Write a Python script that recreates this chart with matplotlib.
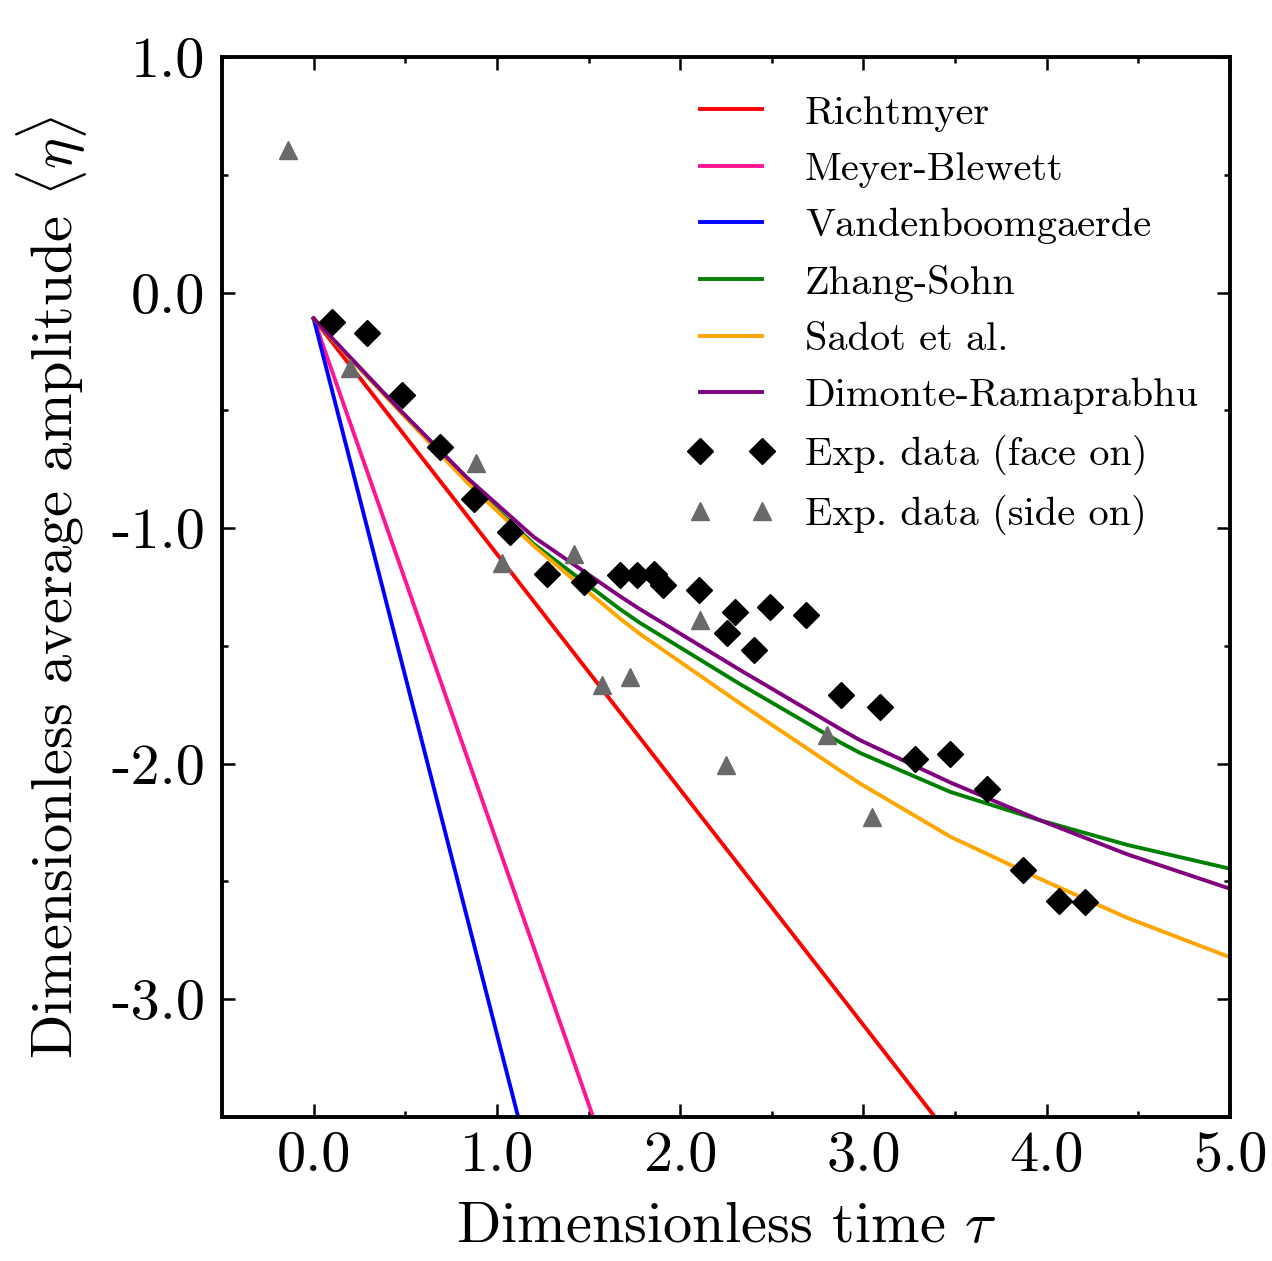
import matplotlib
matplotlib.use("Agg")
import matplotlib.pyplot as plt
from matplotlib.lines import Line2D
from matplotlib.ticker import MultipleLocator, FormatStrFormatter
from matplotlib.legend_handler import HandlerLine2D

plt.rcParams["font.family"] = ["cmr10", "DejaVu Serif"]
plt.rcParams["mathtext.fontset"] = "cm"
plt.rcParams["axes.unicode_minus"] = False

# Model curves
rich_t = [0.0, 3.39]
rich_y = [-0.11, -3.50]

meyer_t = [0.0, 1.525]
meyer_y = [-0.11, -3.50]

vdb_t = [0.0, 1.116]
vdb_y = [-0.11, -3.50]

zs_t = [0.0, 0.2, 0.472, 0.836, 1.2, 1.673, 1.782, 2.328, 2.874, 2.983, 3.474, 3.966, 4.44, 5.0]
zs_y = [-0.11, -0.28, -0.504, -0.80, -1.067, -1.345, -1.403, -1.663, -1.91, -1.955,
        -2.12, -2.241, -2.345, -2.446]

sadot_t = [0.0, 0.2, 0.472, 0.836, 1.2, 1.673, 1.782, 2.328, 2.874, 2.983, 3.474, 3.966, 4.44, 5.0]
sadot_y = [-0.11, -0.28, -0.505, -0.805, -1.075, -1.385, -1.45, -1.745, -2.03, -2.085,
           -2.31, -2.49, -2.655, -2.822]

dr_t = [0.0, 0.2, 0.472, 0.836, 1.2, 1.673, 1.782, 2.328, 2.874, 2.983, 3.474, 3.966, 4.44, 5.0]
dr_y = [-0.11, -0.275, -0.499, -0.785, -1.037, -1.29, -1.345, -1.603, -1.853, -1.901,
        -2.08, -2.241, -2.385, -2.531]

# Experimental data
face_t = [0.099, 0.290, 0.481, 0.690, 0.876, 1.073, 1.273, 1.473, 1.673, 1.764, 1.855,
          1.909, 2.100, 2.301, 2.255, 2.401, 2.492, 2.688, 2.877, 3.088, 3.283, 3.474,
          3.675, 3.871, 4.066, 4.211]
face_y = [-0.123, -0.173, -0.435, -0.654, -0.877, -1.016, -1.193, -1.228, -1.200, -1.200,
          -1.193, -1.242, -1.264, -1.356, -1.445, -1.518, -1.334, -1.370, -1.710, -1.759,
          -1.979, -1.957, -2.106, -2.453, -2.581, -2.588]

side_t = [-0.138, 0.199, 0.884, 1.027, 1.418, 1.573, 1.728, 2.106, 2.252, 2.799, 3.047]
side_y = [0.606, -0.321, -0.724, -1.150, -1.108, -1.667, -1.632, -1.391, -2.007, -1.880, -2.227]

fig = plt.figure(figsize=(12.72, 12.61), dpi=100)
ax = fig.add_axes([0.1745, 0.1142, 0.7925, 0.8406])

lw = 2.8
ax.plot(rich_t, rich_y, color="red", lw=lw, label="Richtmyer")
ax.plot(meyer_t, meyer_y, color="deeppink", lw=lw, label="Meyer-Blewett")
ax.plot(vdb_t, vdb_y, color="blue", lw=lw, label="Vandenboomgaerde")
ax.plot(zs_t, zs_y, color="green", lw=lw, label="Zhang-Sohn")
ax.plot(sadot_t, sadot_y, color="orange", lw=lw, label="Sadot et al.")
ax.plot(dr_t, dr_y, color="purple", lw=lw, label="Dimonte-Ramaprabhu")
ax.plot(face_t, face_y, "D", color="black", ms=13.5, ls="none", label="Exp. data (face on)")
ax.plot(side_t, side_y, "^", color="dimgray", ms=13, ls="none", label="Exp. data (side on)")

ax.set_xlim(-0.5, 5.0)
ax.set_ylim(-3.5, 1.0)
ax.xaxis.set_major_locator(MultipleLocator(1.0))
ax.xaxis.set_minor_locator(MultipleLocator(0.5))
ax.yaxis.set_major_locator(MultipleLocator(1.0))
ax.yaxis.set_minor_locator(MultipleLocator(0.5))
ax.xaxis.set_major_formatter(FormatStrFormatter("%.1f"))
ax.yaxis.set_major_formatter(FormatStrFormatter("%.1f"))
ax.tick_params(which="both", direction="in", top=True, right=True, width=1.8)
ax.tick_params(which="major", length=9.5, labelsize=42, pad=10)
ax.tick_params(which="minor", length=4.5)
ax.tick_params(axis="y", which="major", pad=12)
for s in ax.spines.values():
    s.set_linewidth(2.8)

ax.set_xlabel(r"Dimensionless time $\tau$", fontsize=42, labelpad=14)
ax.set_ylabel(r"Dimensionless average amplitude $\langle\eta\rangle$", fontsize=42,
              labelpad=16)

ax.legend(loc="upper left", bbox_to_anchor=(0.436, 0.998), frameon=False, fontsize=29,
          numpoints=2, handlelength=1.64, handletextpad=1.02, labelspacing=0.5,
          borderpad=0.4, handler_map={Line2D: HandlerLine2D(marker_pad=0.05)})

fig.savefig("out.png", dpi=100)
